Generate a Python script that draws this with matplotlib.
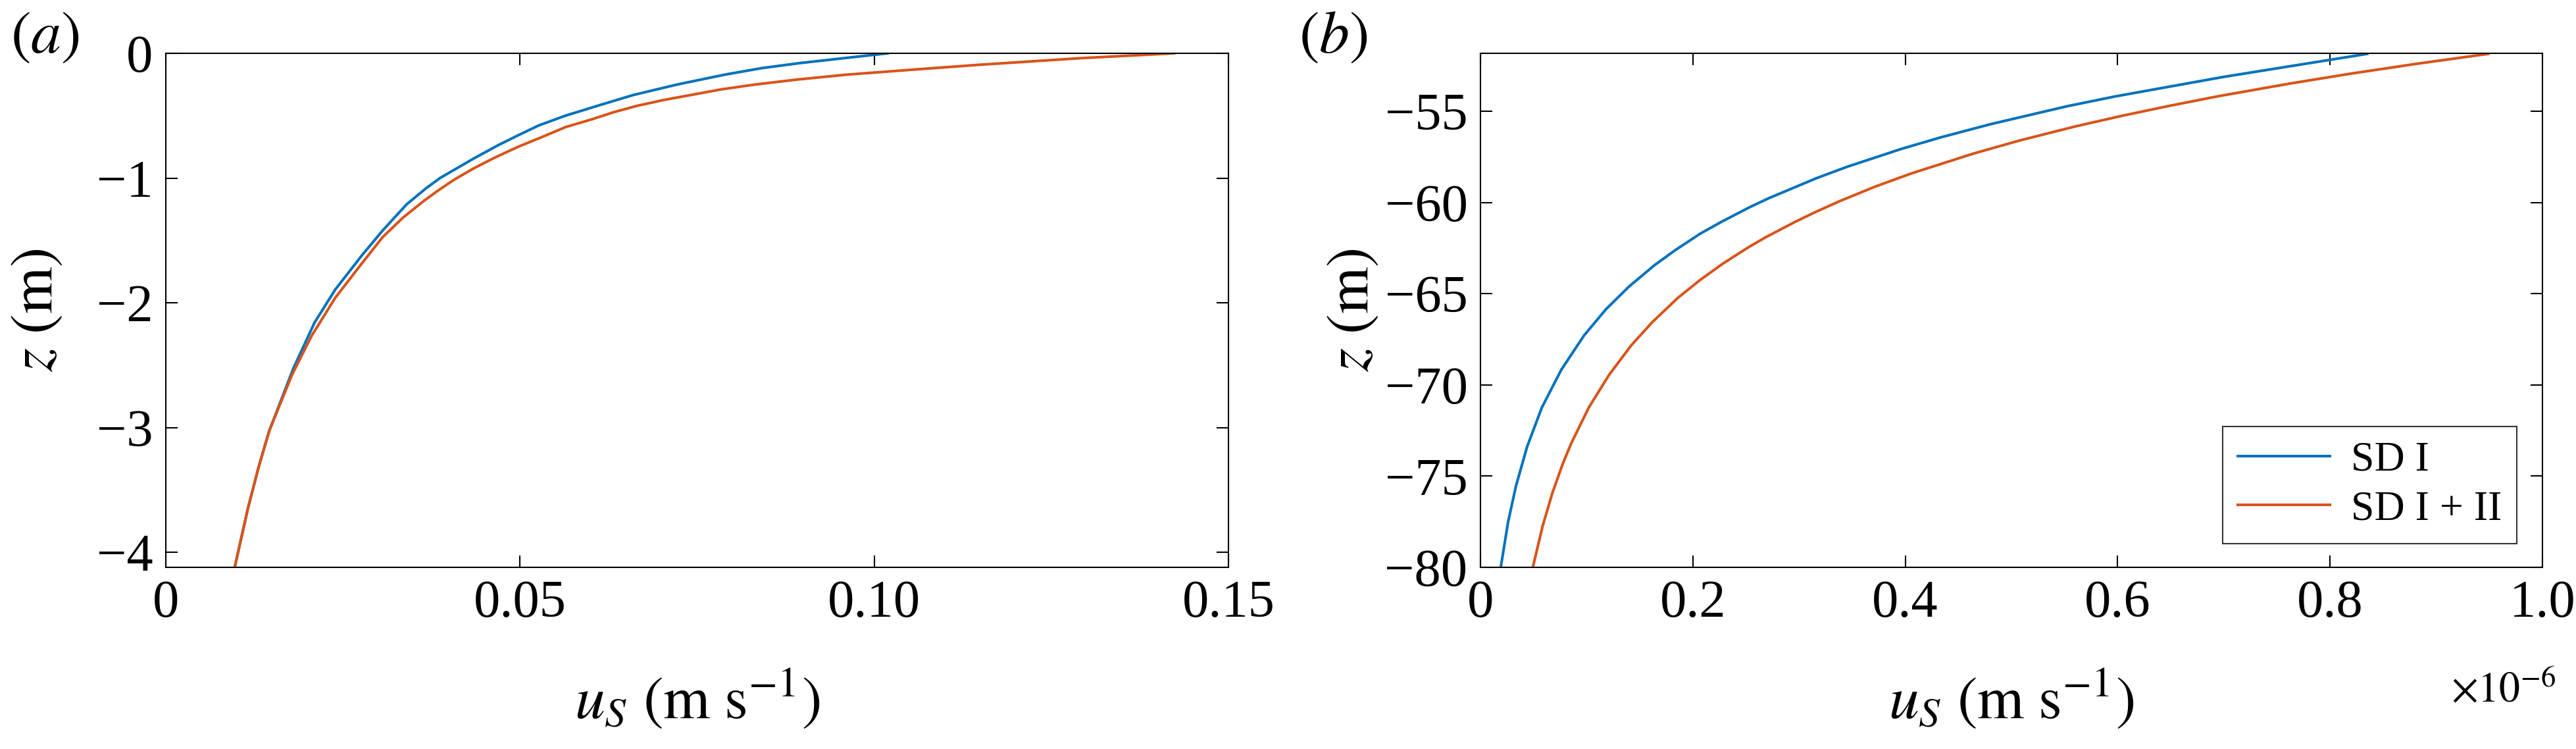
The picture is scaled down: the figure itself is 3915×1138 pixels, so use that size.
import matplotlib
matplotlib.use("Agg")
import matplotlib.pyplot as plt
from matplotlib.ticker import FixedLocator, FuncFormatter

# ---------------- data ----------------
# panel (a): near-surface Stokes drift profiles (z in m, u in m/s)
z_a_sd1 = [0.0, -0.039, -0.079, -0.118, -0.171, -0.25, -0.334, -0.416, -0.5, -0.579,
           -0.658, -0.737, -0.842, -0.934, -1.0, -1.079, -1.21, -1.421, -1.618, -1.895,
           -2.158, -2.526, -3.026, -3.316, -3.645, -4.126]
u_a_sd1 = [0.1019, 0.0957, 0.0894, 0.0842, 0.0789, 0.0722, 0.0660, 0.0612, 0.0564, 0.0526,
           0.0497, 0.0469, 0.0435, 0.0407, 0.0387, 0.0368, 0.0340, 0.0306, 0.0277, 0.0239,
           0.0210, 0.0180, 0.0146, 0.0131, 0.0116, 0.0097]
z_a_sd12 = [0.0, -0.039, -0.092, -0.132, -0.171, -0.211, -0.25, -0.289, -0.329, -0.374,
            -0.421, -0.474, -0.526, -0.592, -0.671, -0.75, -0.837, -0.921, -1.013, -1.105,
            -1.184, -1.316, -1.474, -1.711, -1.961, -2.263, -2.579, -3.026, -3.316, -3.645,
            -4.126]
u_a_sd12 = [0.1423, 0.1291, 0.1148, 0.1052, 0.0961, 0.0890, 0.0832, 0.0784, 0.0746, 0.0703,
            0.0665, 0.0631, 0.0603, 0.0564, 0.0531, 0.0497, 0.0464, 0.0435, 0.0407, 0.0383,
            0.0364, 0.0335, 0.0306, 0.0273, 0.0239, 0.0206, 0.0178, 0.0146, 0.0131, 0.0116,
            0.0097]

# panel (b): deep Stokes drift profiles (z in m, u in m/s)
z_b_sd1 = [-51.85, -53.11, -54.18, -54.72, -55.71, -56.43, -57.06, -58.04, -58.67, -59.75,
           -60.25, -61.10, -61.72, -62.62, -63.43, -64.60, -65.85, -67.29, -69.17, -71.24,
           -73.39, -75.55, -77.52, -80.0]
u_b_sd1 = [0.835e-6, 0.700e-6, 0.598e-6, 0.5525e-6, 0.480e-6, 0.4333e-6, 0.3964e-6, 0.3453e-6,
           0.3162e-6, 0.272e-6, 0.2537e-6, 0.2256e-6, 0.2066e-6, 0.1832e-6, 0.164e-6, 0.140e-6,
           0.1182e-6, 0.0975e-6, 0.0761e-6, 0.0578e-6, 0.0439e-6, 0.0334e-6, 0.0260e-6,
           0.0191e-6]
z_b_sd12 = [-51.85, -52.39, -52.93, -53.47, -54.18, -54.72, -55.26, -55.83, -56.61, -57.32,
            -58.40, -59.12, -59.93, -60.56, -61.10, -61.90, -62.44, -63.34, -64.24, -65.22,
            -66.57, -67.83, -69.44, -71.24, -73.21, -74.29, -75.91, -77.70, -80.0]
u_b_sd12 = [0.949e-6, 0.882e-6, 0.820e-6, 0.763e-6, 0.694e-6, 0.647e-6, 0.603e-6, 0.560e-6,
            0.507e-6, 0.464e-6, 0.406e-6, 0.372e-6, 0.338e-6, 0.314e-6, 0.295e-6, 0.2687e-6,
            0.2527e-6, 0.2285e-6, 0.207e-6, 0.186e-6, 0.1616e-6, 0.142e-6, 0.1212e-6, 0.102e-6,
            0.0854e-6, 0.0777e-6, 0.0678e-6, 0.0587e-6, 0.0493e-6]

series_labels = ["SD I", "SD I + II"]
xticks_a = [0, 0.05, 0.10, 0.15]
yticks_a = [0, -1, -2, -3, -4]
xticks_b = [0, 0.2e-6, 0.4e-6, 0.6e-6, 0.8e-6, 1.0e-6]
yticks_b = [-55, -60, -65, -70, -75, -80]

# ---------------- style ----------------
plt.rcParams['font.family'] = ['Liberation Serif', 'DejaVu Serif']
plt.rcParams['mathtext.fontset'] = 'stix'
C1 = '#0072BD'
C2 = '#D95319'
LW = 2.9
TICK_FS = 58
LABEL_FS = 66

W, H = 3915, 1138
fig = plt.figure(figsize=(W / 100, H / 100), dpi=100)

def axes_from_px(l, t, r, b):
    return fig.add_axes([l / W, 1 - b / H, (r - l) / W, (b - t) / H])

ax_a = axes_from_px(252, 81, 1867, 862)
ax_b = axes_from_px(2250, 81, 3864, 862)

def style(ax):
    for s in ax.spines.values():
        s.set_linewidth(1.5)
    ax.tick_params(direction='in', length=13, width=1.5, top=True, right=True,
                   labelsize=TICK_FS, pad=14)

def minus(v, fmt):
    return fmt(v).replace('-', '\u2212')

# panel (a)
ax_a.plot(u_a_sd1, z_a_sd1, color=C1, lw=LW, label=series_labels[0])
ax_a.plot(u_a_sd12, z_a_sd12, color=C2, lw=LW, label=series_labels[1])
ax_a.set_xlim(0, 0.15)
ax_a.set_ylim(-4.12, 0)
ax_a.xaxis.set_major_locator(FixedLocator(xticks_a))
ax_a.yaxis.set_major_locator(FixedLocator(yticks_a))
ax_a.xaxis.set_major_formatter(FuncFormatter(lambda v, p: '0' if abs(v) < 1e-12 else f'{v:.2f}'))
ax_a.yaxis.set_major_formatter(FuncFormatter(lambda v, p: minus(v, lambda x: f'{x:.0f}')))
style(ax_a)

# panel (b)
ax_b.plot(u_b_sd1, z_b_sd1, color=C1, lw=LW, label=series_labels[0])
ax_b.plot(u_b_sd12, z_b_sd12, color=C2, lw=LW, label=series_labels[1])
ax_b.set_xlim(0, 1.0e-6)
ax_b.set_ylim(-80, -51.82)
ax_b.xaxis.set_major_locator(FixedLocator(xticks_b))
ax_b.yaxis.set_major_locator(FixedLocator(yticks_b))
ax_b.xaxis.set_major_formatter(FuncFormatter(lambda v, p: '0' if abs(v) < 1e-15 else f'{v * 1e6:.1f}'))
ax_b.yaxis.set_major_formatter(FuncFormatter(lambda v, p: minus(v, lambda x: f'{x:.0f}')))
style(ax_b)

xlabel = r'$u_S\ (\mathrm{m\ s^{-1}})$'
for ax in (ax_a, ax_b):
    ax.set_xlabel(xlabel, fontsize=LABEL_FS)
    ax.set_ylabel(r'$z\ (\mathrm{m})$', fontsize=LABEL_FS)
    ax.xaxis.label.set_va('center')
    ax.yaxis.label.set_va('center')

ax_a.yaxis.set_label_coords(-(252 - 57) / 1615, 0.5)
ax_b.yaxis.set_label_coords(-(2250 - 2057) / 1614, 0.5)
ax_a.xaxis.set_label_coords(0.5, -(1062 - 862) / 781)
ax_b.xaxis.set_label_coords(0.5, -(1062 - 862) / 781)

# offset multiplier for panel (b)
ax_b.text((3725 - 2250) / 1614, -(1050 - 862) / 781, r'$\times 10^{-6}$',
          transform=ax_b.transAxes, ha='left', va='center', fontsize=46)

# panel labels
fig.text(68 / W, 1 - 58 / H, r'$(a)$', ha='center', va='center', fontsize=LABEL_FS)
fig.text(2026 / W, 1 - 58 / H, r'$(b)$', ha='center', va='center', fontsize=LABEL_FS)

leg = ax_b.legend(loc='lower right', bbox_to_anchor=((3825 - 2250) / 1614, (862 - 826) / 781),
                  borderaxespad=0, fontsize=46, frameon=True, fancybox=False,
                  handlelength=2.2, handletextpad=0.5, borderpad=0.35, labelspacing=0.25)
leg.get_frame().set_edgecolor('black')
leg.get_frame().set_linewidth(1.5)

fig.savefig('out.png', dpi=100)
